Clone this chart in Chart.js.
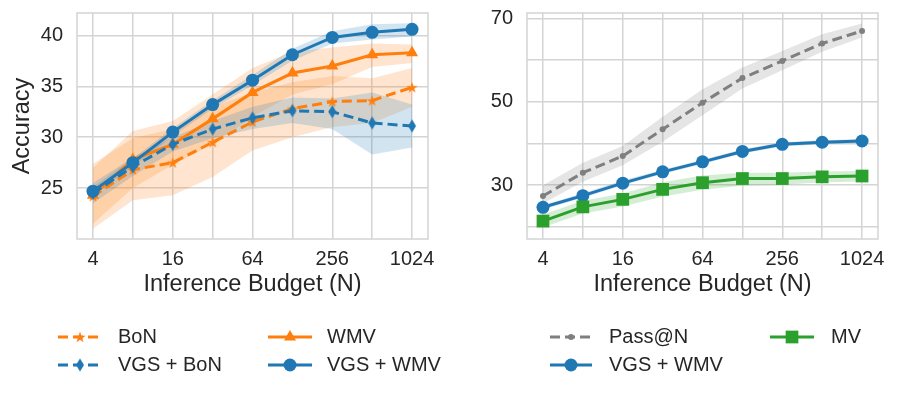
<!DOCTYPE html>
<html>
<head>
<meta charset="utf-8">
<script src="https://cdn.jsdelivr.net/npm/chart.js@4.4.1/dist/chart.umd.min.js"></script>
<style>
  html, body { margin: 0; padding: 0; background: #fff; }
  #wrap { position: relative; width: 897px; height: 395px; overflow: hidden; }
  canvas { position: absolute; top: 0; }
  #left { left: 0; }
  #right { left: 448px; }
</style>
</head>
<body>
<div id="wrap">
  <canvas id="left" width="448" height="395"></canvas>
  <canvas id="right" width="449" height="395"></canvas>
</div>
<script>
// x values (inference budget N) and which of them get a label
const budgets = [4, 8, 16, 32, 64, 128, 256, 512, 1024];
const budgetLabels = [4, 16, 64, 256, 1024];

// left panel
const bonMean    = [24.2, 26.8, 27.5, 29.5, 31.5, 32.8, 33.5, 33.6, 34.9];
const bonLo      = [21.0, 23.8, 24.3, 26.1, 28.7, 30.0, 31.0, 31.4, 33.0];
const bonHi      = [27.4, 29.9, 30.8, 33.0, 34.4, 35.4, 36.0, 35.8, 36.8];
const wmvMean    = [24.3, 27.8, 29.3, 31.8, 34.4, 36.3, 37.0, 38.1, 38.3];
const wmvLo      = [21.5, 25.0, 27.3, 29.3, 32.0, 34.2, 35.2, 36.9, 37.3];
const wmvHi      = [27.0, 30.6, 31.6, 34.2, 36.8, 38.4, 38.8, 39.2, 39.1];
const vgsBonMean = [24.5, 27.1, 29.3, 30.8, 31.9, 32.6, 32.5, 31.4, 31.1];
const vgsBonLo   = [23.5, 26.2, 28.6, 29.9, 30.8, 31.4, 30.8, 28.3, 29.0];
const vgsBonHi   = [25.5, 28.0, 30.0, 31.6, 33.0, 33.9, 33.8, 34.4, 33.2];
const vgsWmvMean = [24.7, 27.5, 30.5, 33.2, 35.6, 38.1, 39.8, 40.3, 40.6];
const vgsWmvLo   = [24.3, 27.1, 30.1, 32.8, 35.1, 37.5, 39.2, 39.6, 39.9];
const vgsWmvHi   = [25.1, 27.9, 30.9, 33.6, 36.1, 38.7, 40.4, 41.1, 41.2];
const leftTicks  = [25, 30, 35, 40];

// right panel
const passMean = [27.4, 33.0, 37.0, 43.4, 49.8, 55.7, 59.8, 64.0, 67.0];
const passLo   = [25.6, 30.8, 34.8, 40.4, 46.8, 53.2, 57.6, 62.0, 65.4];
const passHi   = [30.0, 35.4, 39.4, 46.4, 53.0, 58.2, 62.2, 66.2, 68.8];
const mvMean   = [21.4, 24.8, 26.6, 29.0, 30.6, 31.6, 31.6, 32.0, 32.2];
const mvLo     = [19.9, 23.2, 24.9, 27.3, 28.9, 29.9, 30.1, 30.7, 30.9];
const mvHi     = [23.0, 26.3, 28.0, 30.7, 32.3, 33.0, 33.0, 33.3, 33.4];
const vgsWmvLoR = [24.2, 27.0, 30.0, 32.7, 35.1, 37.6, 39.3, 39.8, 40.1];
const vgsWmvHiR = [25.2, 28.1, 31.1, 33.7, 36.1, 38.6, 40.3, 40.8, 41.1];
const rightTicks = [20, 30, 40, 50, 60, 70];
const rightLabels = [30, 50, 70];

const ORANGE = '#ff7f0e', BLUE = '#1f77b4', GREEN = '#2ca02c', GRAY = '#7f7f7f';
const FONT = 'Arial, "Liberation Sans", sans-serif';
const TEXT = '#262626';
const GRID = '#d4d4d4';

function alpha(hex, a) {
    const n = parseInt(hex.slice(1), 16);
    return `rgba(${n >> 16}, ${(n >> 8) & 255}, ${n & 255}, ${a})`;
}

function makeStar(color, r) {
    const c = document.createElement('canvas');
    const s = Math.ceil(r * 2 + 2);
    c.width = s; c.height = s;
    const g = c.getContext('2d');
    g.fillStyle = color;
    g.beginPath();
    for (let i = 0; i < 10; i++) {
        const rr = i % 2 === 0 ? r : r * 0.382;
        const a = -Math.PI / 2 + i * Math.PI / 5;
        g.lineTo(s / 2 + rr * Math.cos(a), s / 2 + 0.5 + rr * Math.sin(a));
    }
    g.closePath();
    g.fill();
    return c;
}

function makeThinDiamond(color, hw, hh) {
    const c = document.createElement('canvas');
    c.width = Math.ceil(hw * 2 + 2); c.height = Math.ceil(hh * 2 + 2);
    const g = c.getContext('2d');
    const cx = c.width / 2, cy = c.height / 2;
    g.fillStyle = color;
    g.beginPath();
    g.moveTo(cx, cy - hh); g.lineTo(cx + hw, cy); g.lineTo(cx, cy + hh); g.lineTo(cx - hw, cy);
    g.closePath();
    g.fill();
    return c;
}

const starImg = makeStar(ORANGE, 6);
const diamondImg = makeThinDiamond(BLUE, 4, 6.5);

function pts(ys) {
    return budgets.map((x, i) => ({ x: x, y: ys[i] }));
}

function line(label, ys, color, marker, radius, dashed, order) {
    return {
        label: label, data: pts(ys), borderColor: color, backgroundColor: color,
        borderWidth: 3, borderDash: dashed ? [10, 5] : [], tension: 0, fill: false,
        pointStyle: marker, pointRadius: radius, pointBorderWidth: 0,
        pointBackgroundColor: color, order: order
    };
}

// two datasets: lower edge, then upper edge filled down to it
function band(lo, hi, color, order) {
    return [
        { data: pts(lo), borderWidth: 0, pointRadius: 0, fill: false, order: order },
        { data: pts(hi), borderWidth: 0, pointRadius: 0, fill: '-1', backgroundColor: alpha(color, 0.2), order: order }
    ];
}

function drawMarker(ctx, style, r, x, y, color) {
    if (typeof style === 'object') {
        ctx.drawImage(style, x - style.width / 2, y - style.height / 2);
        return;
    }
    ctx.fillStyle = color;
    ctx.beginPath();
    if (style === 'circle') {
        ctx.arc(x, y, r, 0, Math.PI * 2);
    } else if (style === 'triangle') {
        for (let i = 0; i < 3; i++) {
            const a = i * 2 * Math.PI / 3;
            ctx.lineTo(x + Math.sin(a) * r, y - Math.cos(a) * r);
        }
        ctx.closePath();
    } else if (style === 'rect') {
        const s = r * Math.SQRT1_2;
        ctx.rect(x - s, y - s, 2 * s, 2 * s);
    }
    ctx.fill();
}

const framePlugin = {
    id: 'frame',
    beforeDatasetsDraw(chart) {
        const a = chart.chartArea, ctx = chart.ctx;
        ctx.save();
        ctx.strokeStyle = GRID;
        ctx.lineWidth = 1.5;
        ctx.strokeRect(a.left, a.top, a.right - a.left, a.bottom - a.top);
        ctx.restore();
    }
};

const legendPlugin = {
    id: 'panelLegend',
    afterDraw(chart, args, opts) {
        const ctx = chart.ctx;
        ctx.save();
        opts.items.forEach(item => {
            const ds = chart.data.datasets.find(d => d.label === item.label);
            const x0 = item.handle[0], x1 = item.handle[1], y = item.y;
            ctx.strokeStyle = ds.borderColor;
            ctx.lineWidth = ds.borderWidth;
            ctx.setLineDash(ds.borderDash);
            ctx.beginPath();
            ctx.moveTo(x0, y);
            ctx.lineTo(x1, y);
            ctx.stroke();
            ctx.setLineDash([]);
            drawMarker(ctx, ds.pointStyle, ds.pointRadius, (x0 + x1) / 2, y, ds.pointBackgroundColor);
            ctx.fillStyle = TEXT;
            ctx.font = '20px ' + FONT;
            ctx.textBaseline = 'middle';
            ctx.fillText(item.label, item.textX, y);
        });
        ctx.restore();
    }
};

function xAxis() {
    return {
        type: 'logarithmic', min: 3.03, max: 1351,
        afterBuildTicks: s => { s.ticks = budgets.map(v => ({ value: v })); },
        afterFit: s => { s.height = 60; s.paddingLeft = 0; s.paddingRight = 0; },
        grid: { color: GRID, lineWidth: 1.5, drawTicks: false },
        border: { display: false },
        ticks: {
            padding: 8, color: TEXT, font: { size: 20, family: FONT }, maxRotation: 0, autoSkip: false,
            callback: v => budgetLabels.includes(v) ? String(v) : ''
        },
        title: { display: true, text: 'Inference Budget (N)', color: TEXT, font: { size: 23.5, family: FONT }, padding: { top: 0, bottom: 0 } }
    };
}

function yAxis(min, max, ticks, labels, width, title) {
    return {
        min: min, max: max,
        afterBuildTicks: s => { s.ticks = ticks.map(v => ({ value: v })); },
        afterFit: s => { s.width = width; s.paddingTop = 0; s.paddingBottom = 0; },
        grid: { color: GRID, lineWidth: 1.5, drawTicks: false },
        border: { display: false },
        ticks: {
            padding: 14, color: TEXT, font: { size: 20, family: FONT },
            callback: v => labels.includes(v) ? String(v) : ''
        },
        title: { display: !!title, text: title || '', color: TEXT, font: { size: 23.5, family: FONT }, padding: { top: 8, bottom: 0 } }
    };
}

function baseOptions(yCfg, padRight, legendItems) {
    return {
        responsive: false, animation: false, devicePixelRatio: 1,
        layout: { padding: { top: 13, right: padRight, bottom: 96, left: 0 } },
        scales: { x: xAxis(), y: yCfg },
        plugins: { legend: { display: false }, tooltip: { enabled: false }, panelLegend: { items: legendItems } }
    };
}

// left panel
new Chart(document.getElementById('left').getContext('2d'), {
    type: 'line',
    data: {
        datasets: [
            line('VGS + WMV', vgsWmvMean, BLUE, 'circle', 6.5, false, 1),
            line('VGS + BoN', vgsBonMean, BLUE, diamondImg, 5, true, 2),
            line('WMV', wmvMean, ORANGE, 'triangle', 7, false, 3),
            line('BoN', bonMean, ORANGE, starImg, 5, true, 4),
            ...band(bonLo, bonHi, ORANGE, 20),
            ...band(wmvLo, wmvHi, ORANGE, 19),
            ...band(vgsBonLo, vgsBonHi, BLUE, 18),
            ...band(vgsWmvLo, vgsWmvHi, BLUE, 17)
        ]
    },
    options: baseOptions(yAxis(20, 42.2, leftTicks, leftTicks, 77, 'Accuracy'), 20, [
        { label: 'BoN', handle: [58, 102], textX: 118, y: 337 },
        { label: 'VGS + BoN', handle: [58, 102], textX: 118, y: 365 },
        { label: 'WMV', handle: [268, 312], textX: 327, y: 337 },
        { label: 'VGS + WMV', handle: [268, 312], textX: 327, y: 365 }
    ]),
    plugins: [framePlugin, legendPlugin]
});

// right panel
new Chart(document.getElementById('right').getContext('2d'), {
    type: 'line',
    data: {
        datasets: [
            line('MV', mvMean, GREEN, 'rect', 9, false, 1),
            line('VGS + WMV', vgsWmvMean, BLUE, 'circle', 6.5, false, 2),
            line('Pass@N', passMean, GRAY, 'circle', 3, true, 3),
            ...band(passLo, passHi, GRAY, 20),
            ...band(vgsWmvLoR, vgsWmvHiR, BLUE, 19),
            ...band(mvLo, mvHi, GREEN, 18)
        ]
    },
    options: baseOptions(yAxis(17.1, 71.3, rightTicks, rightLabels, 79, ''), 19, [
        { label: 'Pass@N', handle: [102, 144], textX: 161, y: 337 },
        { label: 'VGS + WMV', handle: [102, 144], textX: 161, y: 365 },
        { label: 'MV', handle: [322, 366], textX: 383, y: 337 }
    ]),
    plugins: [framePlugin, legendPlugin]
});
</script>
</body>
</html>
